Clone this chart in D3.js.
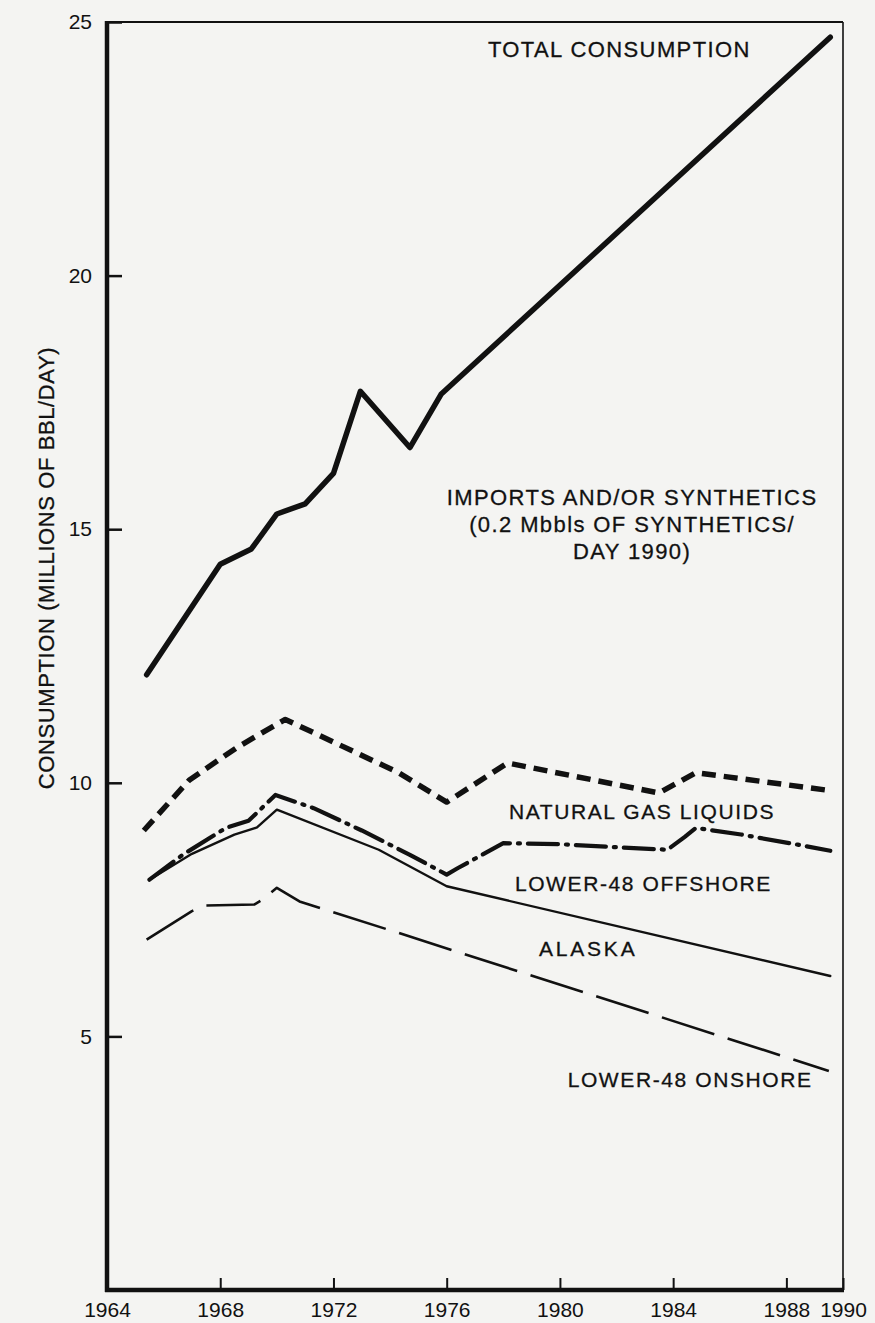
<!DOCTYPE html>
<html>
<head>
<meta charset="utf-8">
<script src="https://cdn.jsdelivr.net/npm/d3@7"></script>
<style>
  html, body { margin: 0; padding: 0; background: #f4f4f2; }
  svg { display: block; }
  text { font-family: "Liberation Sans", Arial, Helvetica, sans-serif; fill: #111; }
</style>
</head>
<body>
<svg id="chart" width="875" height="1323"></svg>
<script>
// ---------- data (year, million bbl/day) ----------
const totalConsumption = [
  [1965.4, 12.13], [1968.0, 14.31], [1969.1, 14.61], [1970.0, 15.30],
  [1971.0, 15.50], [1972.0, 16.10], [1972.95, 17.72], [1974.7, 16.61],
  [1975.8, 17.66], [1989.55, 24.70]
];
const importsBoundary = [   // top of natural gas liquids (thick dashed)
  [1965.3, 9.06], [1966.9, 10.05], [1968.6, 10.70], [1970.3, 11.25],
  [1974.3, 10.20], [1976.0, 9.62], [1978.15, 10.39], [1983.5, 9.80],
  [1984.8, 10.20], [1989.5, 9.85]
];
const nglBoundary = [       // top of lower-48 offshore (dash-dot)
  [1965.5, 8.09], [1966.7, 8.59], [1968.2, 9.11], [1969.0, 9.25],
  [1969.95, 9.76], [1971.3, 9.50], [1973.0, 9.06], [1974.7, 8.58],
  [1976.0, 8.19], [1976.4, 8.32], [1978.0, 8.81], [1980.0, 8.79],
  [1982.0, 8.73], [1983.8, 8.68], [1984.4, 8.93], [1984.8, 9.11],
  [1986.4, 8.98], [1988.4, 8.78], [1989.55, 8.66]
];
const offshoreBoundary = [  // top of Alaska (thin solid)
  [1965.5, 8.09], [1967.0, 8.60], [1968.5, 8.98], [1969.3, 9.12],
  [1970.0, 9.47], [1973.6, 8.68], [1976.0, 7.96], [1989.55, 6.19]
];
const onshoreBoundary = [   // top of lower-48 onshore (long dash)
  [1965.4, 6.91], [1967.0, 7.47], [1967.5, 7.58], [1969.2, 7.60],
  [1969.5, 7.70], [1970.0, 7.93], [1970.8, 7.66], [1971.7, 7.50],
  [1974.3, 7.04], [1989.5, 4.32]
];
const xTicks = [1964, 1968, 1972, 1976, 1980, 1984, 1988, 1990];
const yTicks = [5, 10, 15, 20, 25];
const regionLabels = [
  { lines: ["TOTAL CONSUMPTION"], year: 1982.1, value: 24.31, size: 22, spacing: 1.4 },
  { lines: ["IMPORTS AND/OR SYNTHETICS", "(0.2 Mbbls OF SYNTHETICS/", "DAY 1990)"], year: 1982.55, value: 15.47, size: 22, spacing: 1.4 },
  { lines: ["NATURAL GAS LIQUIDS"], year: 1982.9, value: 9.28, size: 21, spacing: 1.6 },
  { lines: ["LOWER-48 OFFSHORE"], year: 1982.95, value: 7.86, size: 21, spacing: 1.6 },
  { lines: ["ALASKA"], year: 1981.0, value: 6.58, size: 21, spacing: 2.8 },
  { lines: ["LOWER-48 ONSHORE"], year: 1984.6, value: 4.00, size: 21, spacing: 1.6 }
];
const yTitle = "CONSUMPTION (MILLIONS OF BBL/DAY)";

// ---------- layout ----------
const svg = d3.select("#chart");
const mLeft = 107, mRight = 843, mTop = 22, mBottom = 1290;
const x = d3.scaleLinear().domain([1964, 1990]).range([mLeft, mRight]);
const y = d3.scaleLinear().domain([0, 25]).range([mBottom, mTop]);
const ink = "#111";

// frame: thin top / right
svg.append("line").attr("x1", mLeft).attr("x2", mRight).attr("y1", mTop).attr("y2", mTop)
  .attr("stroke", ink).attr("stroke-width", 1.8);
svg.append("line").attr("x1", mRight).attr("x2", mRight).attr("y1", mTop).attr("y2", mBottom)
  .attr("stroke", ink).attr("stroke-width", 1.6);

// axes
const yAxis = svg.append("g").attr("transform", `translate(${mLeft},0)`)
  .call(d3.axisLeft(y).tickValues(yTicks).tickSizeInner(-15).tickSizeOuter(0).tickPadding(15));
yAxis.select(".domain").remove();
yAxis.selectAll(".tick line").attr("stroke", ink).attr("stroke-width", 2.5);
yAxis.selectAll(".tick text").attr("font-size", 21).style("font-family", "Liberation Sans, Arial, sans-serif").attr("fill", ink);

const xAxis = svg.append("g").attr("transform", `translate(0,${mBottom})`)
  .call(d3.axisBottom(x).tickValues(xTicks).tickFormat(d3.format("d")).tickSizeInner(-12).tickSizeOuter(0).tickPadding(12));
xAxis.select(".domain").remove();
xAxis.selectAll(".tick line").attr("stroke", ink).attr("stroke-width", 2);
xAxis.selectAll(".tick text").attr("font-size", 21).style("font-family", "Liberation Sans, Arial, sans-serif").attr("fill", ink);

// thick left / bottom axis lines
svg.append("line").attr("x1", mLeft).attr("x2", mLeft).attr("y1", mTop - 1).attr("y2", mBottom + 2)
  .attr("stroke", ink).attr("stroke-width", 4.5);
svg.append("line").attr("x1", mLeft - 2).attr("x2", mRight + 1).attr("y1", mBottom).attr("y2", mBottom)
  .attr("stroke", ink).attr("stroke-width", 4.5);

// y title
svg.append("text")
  .attr("transform", `translate(54,${568}) rotate(-90)`)
  .attr("text-anchor", "middle")
  .attr("font-size", 22)
  .attr("letter-spacing", 0.6)
  .attr("stroke", ink).attr("stroke-width", 0.3)
  .text(yTitle);

// ---------- lines ----------
const line = d3.line().x(d => x(d[0])).y(d => y(d[1])).curve(d3.curveLinear);
function draw(data, width, dash, cap) {
  svg.append("path").datum(data)
    .attr("d", line)
    .attr("fill", "none")
    .attr("stroke", ink)
    .attr("stroke-width", width)
    .attr("stroke-linejoin", "round")
    .attr("stroke-linecap", cap || "butt")
    .attr("stroke-dasharray", dash || null);
}
draw(onshoreBoundary, 2.6, "55 14");
draw(offshoreBoundary, 2.4, null, "round");
draw(nglBoundary, 4.2, "30 8 2 8", "round");
draw(importsBoundary, 5.5, "14 8");
draw(totalConsumption, 5.5, null, "round");

// ---------- labels ----------
regionLabels.forEach(l => {
  const t = svg.append("text")
    .attr("text-anchor", "middle")
    .attr("font-size", l.size)
    .attr("letter-spacing", l.spacing)
    .attr("stroke", ink).attr("stroke-width", 0.3);
  l.lines.forEach((s, i) => {
    t.append("tspan").attr("x", x(l.year)).attr("y", y(l.value) + i * 26.7).text(s);
  });
});
</script>
</body>
</html>
